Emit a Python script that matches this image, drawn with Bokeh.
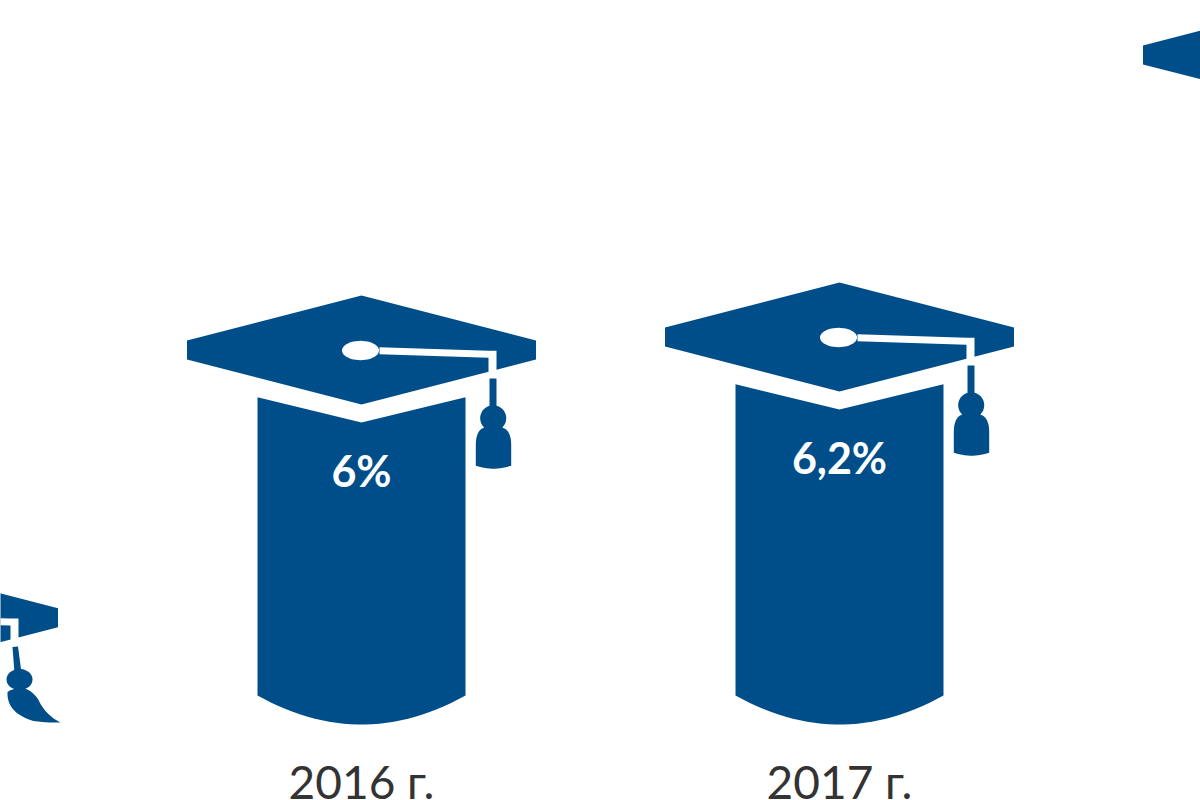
import numpy as np
from bokeh.plotting import figure
from bokeh.core.properties import value
from bokeh.embed import file_html
from bokeh.resources import INLINE

# Data (first and last are estimated from hat heights)
years = ["2015 г.", "2016 г.", "2017 г.", "2018 г."]
shares = [1.88, 6.0, 6.2, 10.54]
share_labels = ["", "6%", "6,2%", ""]
year_labels = ["", "2016 г.", "2017 г.", ""]
BLUE = "#004e89"

# scale: one slot = 478 px, one percentage point = 65 px
PX_X, PX_Y = 478.0, 65.0
X0, Y0 = 361.0, 396.7     # pixel position of slot 1 and of the 6% level

W, H = 1200, 800
p = figure(width=W, height=H, output_backend="svg", toolbar_location=None,
           x_range=(1 + (0 - X0) / PX_X, 1 + (W - X0) / PX_X),
           y_range=(6 + (Y0 - H) / PX_Y, 6 + Y0 / PX_Y),
           x_axis_type=None, y_axis_type=None, min_border=0,
           outline_line_color=None, background_fill_color="white")
p.grid.visible = False


def tx(i, dx):
    return i + np.asarray(dx, float) / PX_X


def ty(v, dy):
    """dy: px below the column's top corners at level v"""
    return v - np.asarray(dy, float) / PX_Y


def bez(a, b, c, n=14):
    t = np.linspace(0, 1, n)
    return (1 - t) ** 2 * a + 2 * t * (1 - t) * b + t ** 2 * c


def ell(cx, cy, rx, ry, n=48):
    t = np.linspace(0, 2 * np.pi, n, endpoint=False)
    return cx + rx * np.cos(t), cy + ry * np.sin(t)


xs, ys, cs = [], [], []


def add(i, v, dx, dy, color):
    xs.append(tx(i, dx))
    ys.append(ty(v, dy))
    cs.append(color)


# pictogram outlines, px relative to the slot centre / column top
hat_dx = [0, 174.5, 174.5, 0, -174.5, -174.5]
hat_dy = [-101.7, -56.7, -37.7, 7.3, -37.7, -56.7]
cord_dx = [18, 127, 135, 135, 127, 127, 18]
cord_dy = [-50, -46.5, -46.5, -18.7, -18.7, -39.5, -43]

for i, v in enumerate(shares):
    top_offset = (6 - v) * PX_Y
    # column: notched top follows the share, the base stays fixed
    if i > 0:
        arc_x = np.linspace(104, -104, 30)
        arc_y = bez(695.0, 753.0, 695.0, 30) - Y0 - top_offset
        add(i, v, np.r_[-104, 0, 104, arc_x], np.r_[0, 25.3, 0, arc_y], BLUE)
    # hat
    add(i, v, hat_dx, hat_dy, BLUE)
    # white button and cord
    ex, ey = ell(-1, -46.7, 18.5, 9.7)
    add(i, v, ex, ey, "white")
    add(i, v, cord_dx, cord_dy, "white")
    # cord and tassel below the brim
    if i == 0:
        # the first tassel swings sideways
        add(i, v, [129, 134.5, 138, 131], [-18, -18.5, 8, 8], BLUE)
        bx, by = ell(136, 14.5, 13, 10.5)
        add(i, v, bx, by, BLUE)
        tdx = np.r_[bez(124, 123, 150), bez(150, 165, 177), bez(177, 162, 155), bez(155, 148, 138), bez(138, 130, 124)]
        tdy = np.r_[bez(27, 48, 56), bez(56, 58, 57.5), bez(57.5, 50, 35), bez(35, 24, 23), bez(23, 23, 27)]
        add(i, v, tdx, tdy, BLUE)
    else:
        add(i, v, [128, 135, 135, 128], [-18.7, -18.7, 15, 15], BLUE)
        bx, by = ell(131.7, 21, 13, 13)
        add(i, v, bx, by, BLUE)
        tdx = np.r_[bez(114.3, 114.3, 124), bez(139.5, 149.7, 149.7), bez(149.7, 132, 114.3)]
        tdy = np.r_[bez(48, 32, 30), bez(30, 32, 48), bez(68.5, 74.5, 68.5)]
        add(i, v, tdx, tdy, BLUE)

p.patches(xs=[list(a) for a in xs], ys=[list(a) for a in ys],
          fill_color=cs, line_color=None)

for i, v in enumerate(shares):
    if share_labels[i]:
        p.text(x=[i], y=[ty(v, 73.0).item()], text=[share_labels[i]], text_color="white",
               text_font=value("Lato"), text_font_style="bold", text_font_size="43px",
               text_align="center", text_baseline="middle")
    if year_labels[i]:
        p.text(x=[i], y=[ty(6, 384.0).item()], text=[year_labels[i]], text_color="#333333",
               text_font=value("Lato"), text_font_size="46px",
               text_align="center", text_baseline="middle")

open("out.html", "w").write(file_html(p, INLINE))
